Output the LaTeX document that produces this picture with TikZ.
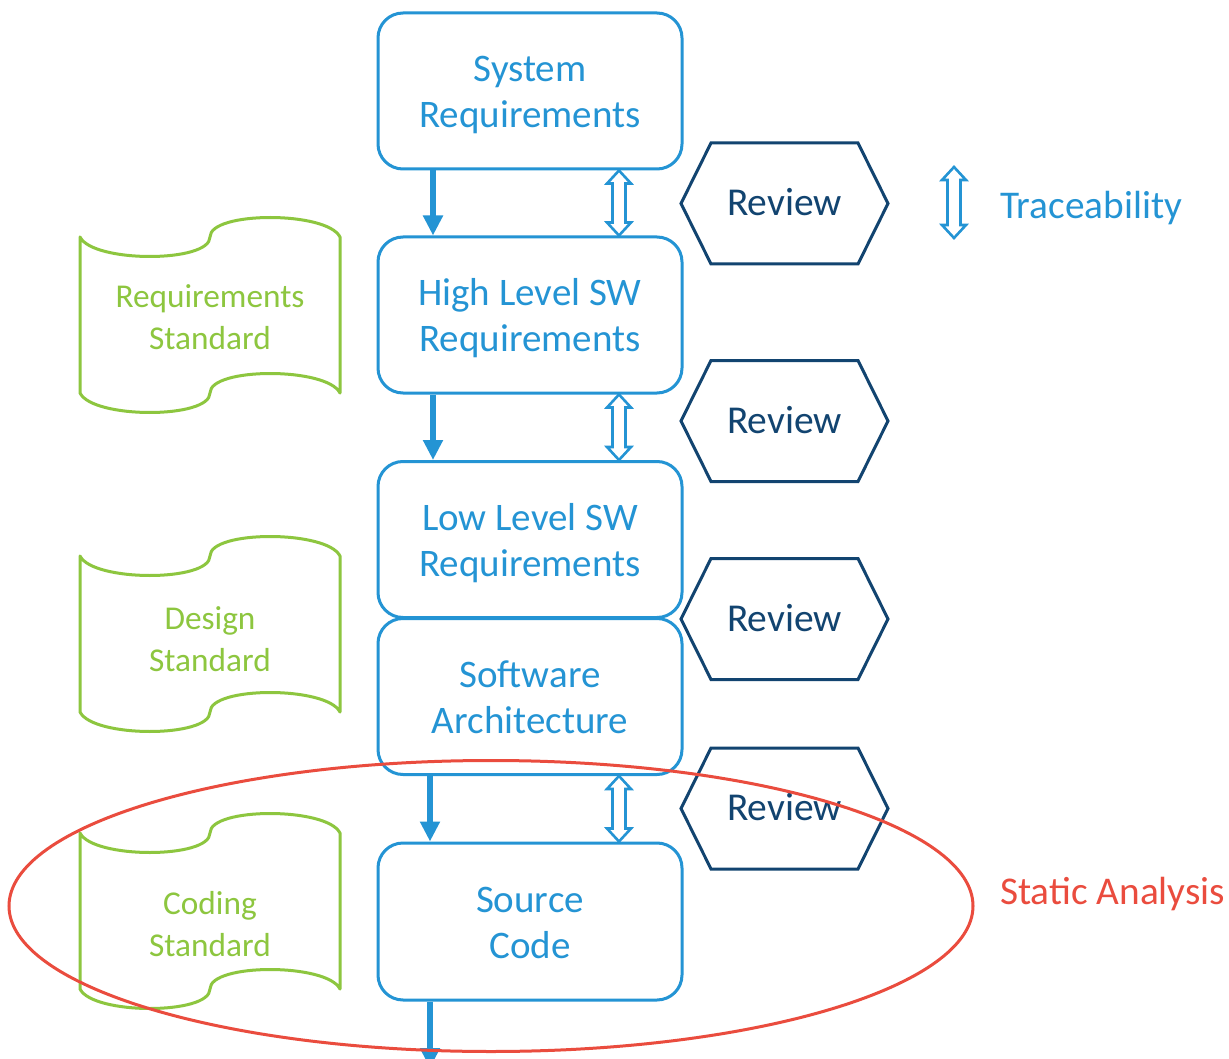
\documentclass[tikz,border=0pt]{standalone}
\usepackage{fontspec}
\setmainfont{Carlito}
\usetikzlibrary{arrows.meta,calc}
\definecolor{cblue}{RGB}{36,148,212}
\definecolor{cnavy}{RGB}{18,68,112}
\definecolor{cgreen}{RGB}{141,198,63}
\definecolor{cred}{RGB}{234,76,62}
\newcommand\tracearrow[2]{%
  \draw[tracestyle] let \p1=(#1), \p2=(#2) in
  (\x1,\y1) -- (\x1+12pt,\y1-13pt) -- (\x1+6.5pt,\y1-13pt) -- (\x1+6.5pt,\y2+13pt)
  -- (\x1+12pt,\y2+13pt) -- (\x1,\y2) -- (\x1-12pt,\y2+13pt) -- (\x1-6.5pt,\y2+13pt)
  -- (\x1-6.5pt,\y1-13pt) -- (\x1-12pt,\y1-13pt) -- cycle;}
\newcommand\reviewhex[3]{%
  \draw[hexline] (#2-103.5,#3) -- (#2-73.5,#3-60.5) -- (#2+73.5,#3-60.5) -- (#2+103.5,#3)
  -- (#2+73.5,#3+60.5) -- (#2-73.5,#3+60.5) -- cycle;
  \node[revtext, anchor=base] (#1) at (#2,#3+12) {Review};}
\newcommand\stdscroll[1]{%
  \draw[scrollline] (80,#1) .. controls (93,#1+26) and (210,#1+26) .. (210,#1)
  .. controls (210,#1-26) and (327,#1-26) .. (340,#1) -- (340,#1+156)
  .. controls (327,#1+130) and (210,#1+130) .. (210,#1+156)
  .. controls (210,#1+182) and (93,#1+182) .. (80,#1+156) -- cycle;}
\newcommand\twolines[2]{\rule{0pt}{38pt}#1\\#2\rule[-10pt]{0pt}{10pt}}
\begin{document}
\begin{tikzpicture}[x=1pt,y=-1pt,
  boxstyle/.style={draw=cblue, line width=3pt, fill=white, rounded corners=25pt,
    minimum width=304pt, minimum height=156pt, inner sep=0pt, align=center,
    text=cblue, font=\fontsize{39}{46}\selectfont},
  flow/.style={draw=cblue, line width=6pt, -{Triangle[width=19pt,length=20pt]}},
  tracestyle/.style={draw=cblue, line width=2.6pt, fill=white, line join=miter},
  hexline/.style={draw=cnavy, line width=3pt, line join=miter},
  revtext/.style={text=cnavy, inner sep=0pt, font=\fontsize{39.5}{46}\selectfont},
  scrollline/.style={draw=cgreen, line width=3pt, line join=round},
  stdtext/.style={text=cgreen, align=center, inner sep=0pt, font=\fontsize{33.3}{42}\selectfont},
  legtext/.style={text=cblue, inner sep=0pt, font=\fontsize{39.3}{46}\selectfont},
  redtext/.style={text=cred, inner sep=0pt, font=\fontsize{39.3}{46}\selectfont},
  redline/.style={draw=cred, line width=3pt}
]
\useasboundingbox[fill=white] (0,0) rectangle (1229,1059);

% standards (scrolls)
\stdscroll{237}
\node[stdtext] (req) at (210,317) {Requirements\\Standard};
\stdscroll{556}
\node[stdtext] (des) at (210,639) {Design\\Standard};
\stdscroll{833}
\node[stdtext] (cod) at (210,924) {Coding\\Standard};

% main boxes
\node[boxstyle] (b1) at (530,91) {\twolines{System}{Requirements}};
\node[boxstyle] (b2) at (530,315) {\twolines{High Level SW}{Requirements}};
\node[boxstyle] (b3) at (530,539.5) {\twolines{Low Level SW}{Requirements}};
\node[boxstyle] (b4) at (530,696.5) {\twolines{Software}{Architecture}};
\node[boxstyle, minimum height=157pt] (b5) at (530,921.5) {\twolines{Source}{Code}};

% flow arrows
\draw[flow] ([xshift=-97pt]b1.south) -- ([xshift=-97pt]b2.north);
\draw[flow] ([xshift=-97pt]b2.south) -- ([xshift=-97pt]b3.north);
\draw[flow] ([xshift=-100pt]b4.south) -- ([xshift=-100pt]b5.north);
\coordinate (bend) at (430,1068);
\draw[flow] ([xshift=-100pt]b5.south) -- (bend);

% traceability arrows
\tracearrow{[xshift=89pt]b1.south}{[xshift=89pt]b2.north}
\tracearrow{[xshift=89pt]b2.south}{[xshift=89pt]b3.north}
\tracearrow{[xshift=89pt]b4.south}{[xshift=89pt]b5.north}

% reviews
\reviewhex{r1}{784.5}{203.5}
\reviewhex{r2}{784.5}{421}
\reviewhex{r3}{784.5}{619}
\reviewhex{r4}{784.5}{808.5}

% legend
\coordinate (lt) at (954,167);
\coordinate (lb) at (954,238);
\tracearrow{lt}{lb}
\node[legtext, anchor=base west] (trace) at (1000,218.5) {Traceability};

% static analysis
\draw[redline] (491,906) ellipse [x radius=482, y radius=145.5];
\node[redtext, anchor=base west] (sa) at (1000,904) {Static Analysis};
\end{tikzpicture}
\end{document}
